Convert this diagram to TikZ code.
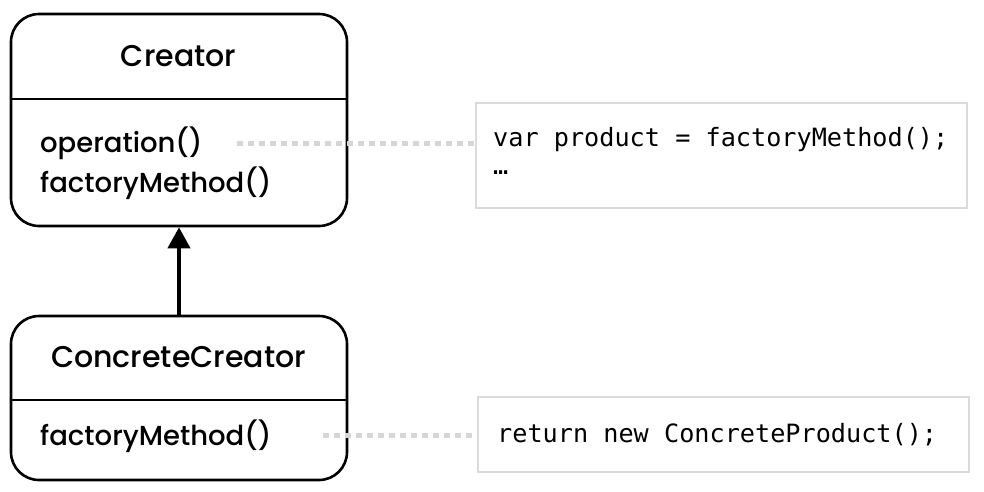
\documentclass[tikz,border=0pt]{standalone}
\usepackage{fontspec}
\setmainfont{Poppins}[BoldFont={Poppins Medium}]
\newfontfamily\codefont{DejaVu Sans Mono}
\usetikzlibrary{arrows.meta}
\begin{document}
\begin{tikzpicture}[x=1pt,y=-1pt,
  classbox/.style={draw=black, line width=2.6pt, rounded corners=28pt, inner sep=0pt},
  divider/.style={draw=black, line width=2.6pt},
  title/.style={font=\bfseries\fontsize{30}{34}\selectfont, anchor=center, inner sep=0pt},
  member/.style={font=\bfseries\fontsize{27.5}{32}\selectfont, anchor=west, inner sep=0pt},
  codebox/.style={draw=black!14, line width=2.6pt, inner sep=0pt},
  code/.style={font=\codefont\fontsize{25.2}{30}\selectfont, anchor=west, inner sep=0pt},
  note/.style={draw=black!16, line width=5pt, dash pattern=on 6pt off 5pt},
  inherit/.style={draw=black, line width=4pt, -{Triangle[length=21pt,width=22pt]}}
]
\useasboundingbox (0,0) rectangle (984,491);

% Creator class
\node[classbox, minimum width=336pt, minimum height=212pt] (creator) at (179,120) {};
\draw[divider] (creator.west |- 0,99) -- (creator.east |- 0,99);
\node[title] (creatorname) at (178.5,56) {Creator};
\node[member] (op) at (40,143) {operation()};
\node[member] (fm) at (40,183) {factoryMethod()};

% ConcreteCreator class
\node[classbox, minimum width=336pt, minimum height=164pt] (concrete) at (179,398) {};
\draw[divider] (concrete.west |- 0,400) -- (concrete.east |- 0,400);
\node[title] (concretename) at (178.5,357) {ConcreteCreator};
\node[member] (cfm) at (40,436) {factoryMethod()};

% Inheritance
\draw[inherit] (concrete.north) -- (creator.south);

% Code notes
\node[codebox, minimum width=491pt, minimum height=105pt] (note1) at (721.5,155.5) {};
\node[code] (line1) at (493,140) {var product = factoryMethod();};
\node[code] (line2) at (493,173) {…};
\node[codebox, minimum width=491pt, minimum height=75pt] (note2) at (723.5,434.5) {};
\node[code] (line3) at (497,435) {return new ConcreteProduct();};

% Note links
\coordinate (n1start) at (237,143);
\coordinate (n2start) at (323,435);
\draw[note] (n1start) -- (n1start -| note1.west);
\draw[note] (n2start) -- (n2start -| note2.west);
\end{tikzpicture}
\end{document}
